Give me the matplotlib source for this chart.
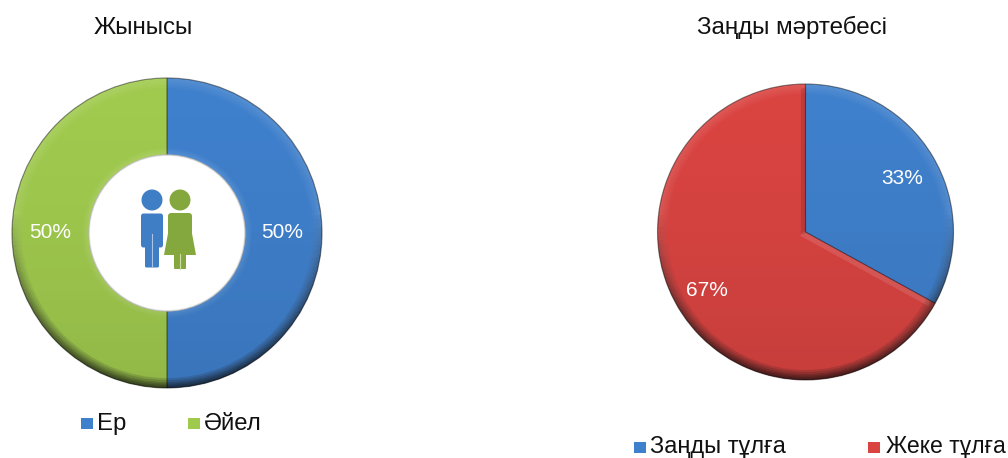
import numpy as np
import matplotlib
matplotlib.use("Agg")
import matplotlib.pyplot as plt
from matplotlib.colors import to_rgb
from matplotlib.patches import Annulus, Circle, FancyBboxPatch, Polygon, Rectangle

plt.rcParams["font.family"] = ["Liberation Sans", "DejaVu Sans"]

# ---------------- DATA ----------------
gender_title = "Жынысы"
gender_labels = ["Ер", "Әйел"]
gender_values = [50, 50]
gender_colors = ["#3f80cc", "#a0ca4e"]

status_title = "Заңды мәртебесі"
status_labels = ["Заңды тұлға", "Жеке тұлға"]
status_values = [33, 67]
status_colors = ["#3f80cc", "#d94441"]

H = 458


def mix(a, b, t):
    a, b = np.array(to_rgb(a)), np.array(to_rgb(b))
    return tuple(a + (b - a) * t)


def layer(ax, values, cols, cx, y, r):
    ax.pie(values, colors=cols, startangle=90, counterclock=False,
           center=(cx, y), radius=r, frame=True, wedgeprops=dict(linewidth=0))


def shaded_pie(ax, values, colors, cx, cy, r, inner=0.0):
    y = H - cy
    # bevel on the outer edge: lighter at the rim, base colour further in
    for f in np.linspace(1.0, 0.93, 10):
        t = (f - 0.93) / 0.07
        layer(ax, values, [mix(c, "white", 0.12 * t) for c in colors], cx, y, r * f)
    # same bevel around the hole
    if inner:
        for f in np.linspace(1.12, 1.0, 8):
            t = (1.12 - f) / 0.12
            layer(ax, values, [mix(c, "white", 0.16 * t) for c in colors], cx, y, inner * f)
    # slice borders
    ax.pie(values, colors=["none"] * len(values), startangle=90, counterclock=False,
           center=(cx, y), radius=r, frame=True,
           wedgeprops=dict(linewidth=0.8, edgecolor="#00000040"))
    # darker towards the bottom
    grad = np.zeros((200, 2, 4))
    grad[..., 3] = np.repeat(np.linspace(0, 0.2, 200)[:, None] ** 1.5, 2, axis=1)
    im = ax.imshow(grad, extent=(cx - r, cx + r, y - r, y + r), origin="upper",
                   aspect="auto", zorder=3)
    im.set_clip_path(Circle((cx, y), r, transform=ax.transData))
    # rim goes dark only on the lower half, fading inward
    rim = np.zeros((200, 2, 4))
    rim[..., 3] = np.repeat(np.clip(np.linspace(-0.12, 0.16, 200), 0, 1)[:, None], 2, axis=1)
    for w in [1.5, 3, 4.5, 6, 8, 10]:
        im2 = ax.imshow(rim, extent=(cx - r, cx + r, y - r, y + r), origin="upper",
                        aspect="auto", zorder=3)
        im2.set_clip_path(Annulus((cx, y), r, w, transform=ax.transData))
    ax.add_patch(Circle((cx, y), r, fill=False, ec="#00000040", lw=0.8, zorder=4))
    if inner:
        for f, g in zip(np.linspace(1.02, 1.0, 5), np.linspace(0.7, 1.0, 5)):
            ax.add_patch(Circle((cx, y), inner * f, color=str(g), lw=0, zorder=4))


def status_bands(ax, values, cx, cy, r):
    # bevel along the two straight edges of the red slice
    y = H - cy
    clip = Circle((cx, y), r * 0.97, transform=ax.transData)
    ang = np.radians(90 - values[0] * 3.6)
    d = np.array([np.cos(ang), np.sin(ang)])
    n = np.array([-d[1], d[0]]) * -1
    p0 = np.array([cx, y]) + n * 3
    p1 = p0 + d * r
    ln, = ax.plot([p0[0], p1[0]], [p0[1], p1[1]], color="white", alpha=0.12, lw=4, zorder=2)
    ln.set_clip_path(clip)
    ln2, = ax.plot([cx - 2.5, cx - 2.5], [y, y + r], color="black", alpha=0.12, lw=3, zorder=2)
    ln2.set_clip_path(clip)


def person(ax, cx, color, female=False):
    ax.add_patch(Circle((cx, H - 200), 10.5, color=color, lw=0, zorder=5))
    if female:
        ax.add_patch(FancyBboxPatch((cx - 9, H - 236), 18, 20, boxstyle="round,pad=3",
                                    color=color, lw=0, zorder=5))
        ax.add_patch(Polygon([(cx - 11, H - 228), (cx + 11, H - 228), (cx + 16, H - 255),
                              (cx - 16, H - 255)], closed=True, color=color, lw=0, zorder=5))
        ax.add_patch(FancyBboxPatch((cx - 5, H - 268), 10, 14, boxstyle="round,pad=1",
                                    color=color, lw=0, zorder=5))
        ax.plot([cx, cx], [H - 269, H - 254], color="#cfdca8", lw=0.8, zorder=6)
    else:
        ax.add_patch(FancyBboxPatch((cx - 8.5, H - 245), 17, 29, boxstyle="round,pad=2.5",
                                    color=color, lw=0, zorder=5))
        ax.add_patch(FancyBboxPatch((cx - 5.5, H - 266), 11, 26, boxstyle="round,pad=1.5",
                                    color=color, lw=0, zorder=5))
        ax.plot([cx, cx], [H - 266, H - 234], color="#a9c4e6", lw=0.8, zorder=6)


fig = plt.figure(figsize=(10.08, 4.58), dpi=100)
ax = fig.add_axes([0, 0, 1, 1])

shaded_pie(ax, gender_values, gender_colors, 167, 233, 155, inner=77)
shaded_pie(ax, status_values, status_colors, 805.5, 232, 148)
status_bands(ax, status_values, 805.5, 232, 148)

person(ax, 152, "#3f7dc4")
person(ax, 180, "#84a83e", female=True)

# value labels
ax.text(282, H - 233, f"{gender_values[0]}%", color="white", fontsize=15, ha="center", va="center", zorder=7)
ax.text(50, H - 233, f"{gender_values[1]}%", color="white", fontsize=15, ha="center", va="center", zorder=7)
ax.text(902.5, H - 178, f"{status_values[0]}%", color="white", fontsize=15, ha="center", va="center", zorder=7)
ax.text(707, H - 290, f"{status_values[1]}%", color="white", fontsize=15, ha="center", va="center", zorder=7)

# titles
ax.text(143.5, H - 34, gender_title, fontsize=17.4, ha="center", va="baseline", color="#111111")
ax.text(792, H - 34, status_title, fontsize=17.4, ha="center", va="baseline", color="#111111")

# legends
for x, y, col, lab, tx, base, fs in [(87, 423, gender_colors[0], gender_labels[0], 97, 430, 17.2),
                                     (194, 423, gender_colors[1], gender_labels[1], 204, 430, 17.2),
                                     (640, 447, status_colors[0], status_labels[0], 650, 453, 17),
                                     (874, 447, status_colors[1], status_labels[1], 886, 453, 16.6)]:
    ax.add_patch(Rectangle((x - 6, H - y - 5.5), 12, 11, color=col, lw=0, zorder=5))
    ax.text(tx, H - base, lab, fontsize=fs, ha="left", va="baseline", color="#111111")

ax.set_xlim(0, 1008)
ax.set_ylim(0, H)
ax.set_axis_off()

plt.savefig("out.png", dpi=100)
